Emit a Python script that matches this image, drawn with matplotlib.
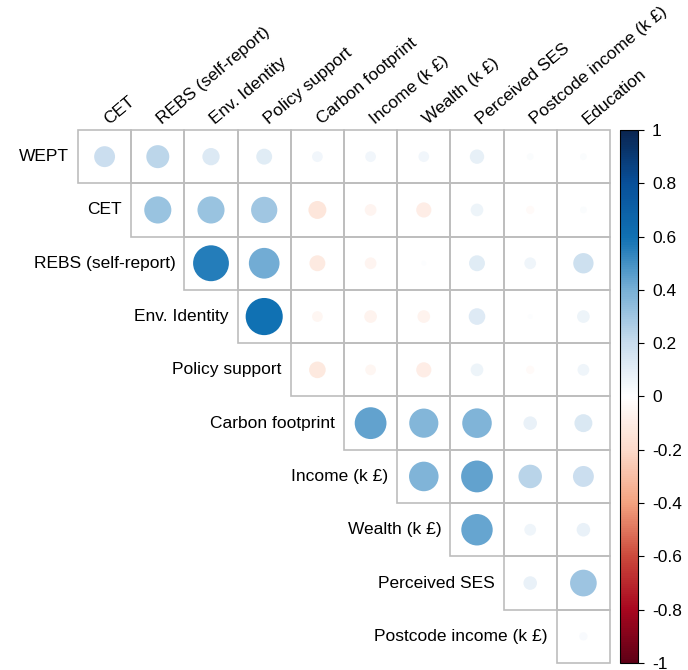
import numpy as np
import matplotlib
matplotlib.use("Agg")
import matplotlib.pyplot as plt
from matplotlib.patches import Circle, Rectangle
from matplotlib.colors import Normalize, LinearSegmentedColormap
from matplotlib.cm import ScalarMappable

plt.rcParams['font.family'] = ['Liberation Sans', 'DejaVu Sans']

variables = ["WEPT", "CET", "REBS (self-report)", "Env. Identity", "Policy support",
             "Carbon footprint", "Income (k £)", "Wealth (k £)", "Perceived SES",
             "Postcode income (k £)", "Education"]

# upper-triangle correlations: row variable i vs each later variable
r_wept      = [0.19, 0.23, 0.13, 0.11, 0.05, 0.05, 0.05, 0.09, 0.02, 0.02]
r_cet       = [0.32, 0.32, 0.30, -0.14, -0.06, -0.10, 0.07, -0.03, 0.02]
r_rebs      = [0.56, 0.41, -0.11, -0.06, 0.01, 0.11, 0.06, 0.18]
r_env       = [0.60, -0.05, -0.07, -0.07, 0.12, 0.01, 0.07]
r_policy    = [-0.12, -0.05, -0.10, 0.07, -0.03, 0.06]
r_carbon    = [0.44, 0.37, 0.38, 0.08, 0.14]
r_income    = [0.38, 0.44, 0.24, 0.19]
r_wealth    = [0.43, 0.06, 0.08]
r_perceived = [0.08, 0.31]
r_postcode  = [0.03]
rows = [r_wept, r_cet, r_rebs, r_env, r_policy, r_carbon, r_income,
        r_wealth, r_perceived, r_postcode]

cbar_ticks = [-1, -0.8, -0.6, -0.4, -0.2, 0, 0.2, 0.4, 0.6, 0.8, 1]
palette = ["#5e0016", "#a8071f", "#cc4a3c", "#f4a380", "#fcdacb", "#ffffff",
           "#c9ddee", "#78b0d6", "#1071b3", "#08509a", "#0a2550"]

W, H = 688, 670
fig = plt.figure(figsize=(W / 100, H / 100), dpi=100)

gx0, gx1, gy0, gy1 = 78, 610, 130, 663
ax = fig.add_axes([gx0 / W, 1 - gy1 / H, (gx1 - gx0) / W, (gy1 - gy0) / H])
n = len(rows)
ax.set_xlim(0, n)
ax.set_ylim(n, 0)
ax.axis('off')

cmap = LinearSegmentedColormap.from_list('corr', palette, N=256)
norm = Normalize(-1, 1)
grid_col = '#bdbdbd'
fs = 12.5

for i, vals in enumerate(rows):
    for k, v in enumerate(vals):
        j = i + k
        ax.add_patch(Rectangle((j, i), 1, 1, fill=False, edgecolor=grid_col,
                               linewidth=1.2, clip_on=False))
        ax.add_patch(Circle((j + 0.5, i + 0.5), 0.45 * np.sqrt(abs(v)),
                            facecolor=cmap(norm(v)), edgecolor='none', zorder=3))
    ax.text(i - 0.17, i + 0.5, variables[i], ha='right', va='center', fontsize=fs)

for j in range(n):
    ax.text(j + 0.62, -0.06, variables[j + 1], rotation=40, ha='left', va='bottom',
            rotation_mode='anchor', fontsize=fs)

cax = fig.add_axes([620 / W, 1 - gy1 / H, 18 / W, (gy1 - gy0) / H])
sm = ScalarMappable(norm=norm, cmap=cmap)
cb = fig.colorbar(sm, cax=cax, ticks=cbar_ticks)
cb.ax.set_yticklabels([('%g' % t) for t in cbar_ticks])
cb.ax.tick_params(labelsize=fs, length=4, width=0.8, pad=6)
cb.outline.set_linewidth(0.8)

fig.savefig('out.png', dpi=100)
